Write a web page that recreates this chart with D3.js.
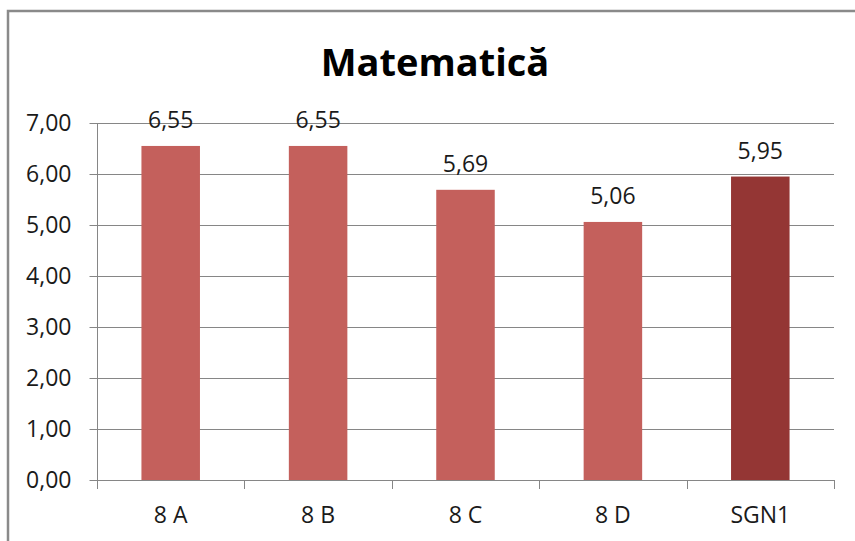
<!DOCTYPE html>
<html>
<head>
<meta charset="utf-8">
<script src="https://cdn.jsdelivr.net/npm/d3@7"></script>
<style>
    body { margin: 0; background: #fff; }
    svg { display: block; font-family: "Open Sans", sans-serif; }
    .axis path, .axis line { stroke: #868686; }
    .axis text { fill: #1a1a1a; font-size: 23px; font-family: "Open Sans", sans-serif; }
</style>
</head>
<body>
<div id="viewportContainer"></div>
<script>
/* --- データ --- */
const title = "Matematică";
const categories = ["8 A", "8 B", "8 C", "8 D", "SGN1"];
const values = [6.55, 6.55, 5.69, 5.06, 5.95];
const yTicks = [0, 1, 2, 3, 4, 5, 6, 7];
const highlighted = "SGN1";

/* --- ビューポート --- */
const viewport = {width: 855, height: 541};
const plot = {left: 97, right: 834, top: 123, bottom: 480};

const fmt = d => d.toFixed(2).replace(".", ",");

const svg = d3.select("#viewportContainer")
    .append("svg")
    .attr("width", viewport.width)
    .attr("height", viewport.height);

// chart frame (only top and left edges visible in the picture)
svg.append("path")
    .attr("d", "M8,541V11H855")
    .attr("fill", "none")
    .attr("stroke", "#8a8a8a")
    .attr("stroke-width", 2.5);

svg.append("text")
    .attr("x", 435)
    .attr("y", 76)
    .attr("text-anchor", "middle")
    .style("font-size", "38px")
    .style("font-weight", "bold")
    .style("fill", "#000")
    .text(title);

/*--- スケール ---*/
const xScale = d3.scaleBand()
    .domain(categories)
    .range([plot.left, plot.right]);

const yScale = d3.scaleLinear()
    .domain([0, 7])
    .range([plot.bottom, plot.top]);

/*--- グリッド ---*/
svg.append("g")
    .selectAll("line")
    .data(yTicks.filter(d => d > 0))
    .enter()
    .append("line")
    .attr("x1", plot.left)
    .attr("x2", plot.right)
    .attr("y1", d => Math.round(yScale(d)) + 0.5)
    .attr("y2", d => Math.round(yScale(d)) + 0.5)
    .attr("stroke", "#868686");

/*--- 軸 ---*/
const yAxis = d3.axisLeft(yScale)
    .tickValues(yTicks)
    .tickSize(8)
    .tickPadding(18)
    .tickFormat(fmt);

svg.append("g")
    .attr("class", "y axis")
    .attr("transform", "translate(" + (plot.left + 0.5) + ",0)")
    .call(yAxis)
    .call(g => g.select(".domain").attr("d", "M0," + plot.top + "V" + plot.bottom))
    .call(g => g.selectAll(".tick").attr("transform", d => "translate(0," + (Math.round(yScale(d)) + 0.5) + ")"));

const xAxis = d3.axisBottom(xScale)
    .tickSize(0)
    .tickPadding(26);

svg.append("g")
    .attr("class", "x axis")
    .attr("transform", "translate(0," + (plot.bottom + 0.5) + ")")
    .call(xAxis)
    .call(g => g.select(".domain").attr("d", "M" + plot.left + ",0H" + plot.right));

// category boundary ticks
const bounds = categories.map(c => xScale(c)).concat([plot.right]);
svg.append("g")
    .selectAll("line")
    .data(bounds)
    .enter()
    .append("line")
    .attr("x1", d => Math.round(d) + 0.5)
    .attr("x2", d => Math.round(d) + 0.5)
    .attr("y1", plot.bottom)
    .attr("y2", plot.bottom + 9)
    .attr("stroke", "#868686");

/*--- 棒 ---*/
const barW = xScale.bandwidth() * 0.397;
const bars = categories.map((c, i) => ({cat: c, value: values[i]}));

svg.append("g")
    .selectAll("rect")
    .data(bars)
    .enter()
    .append("rect")
    .attr("x", d => xScale(d.cat) + (xScale.bandwidth() - barW) / 2)
    .attr("y", d => yScale(d.value))
    .attr("width", barW)
    .attr("height", d => yScale(0) - yScale(d.value))
    .attr("fill", d => d.cat === highlighted ? "#943634" : "#C4605C");

svg.append("g")
    .selectAll("text")
    .data(bars)
    .enter()
    .append("text")
    .attr("x", d => xScale(d.cat) + xScale.bandwidth() / 2)
    .attr("y", d => yScale(d.value) - 18)
    .attr("text-anchor", "middle")
    .style("font-size", "23px")
    .style("fill", "#1a1a1a")
    .text(d => fmt(d.value));
</script>
</body>
</html>
